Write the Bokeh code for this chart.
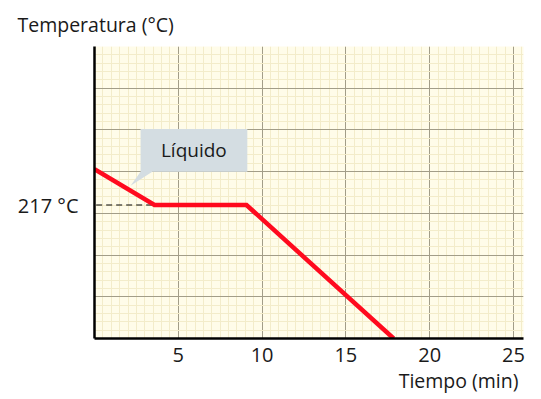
from bokeh.plotting import figure
from bokeh.models import FixedTicker, Label, Range1d, Title
from bokeh.embed import file_html
from bokeh.resources import INLINE

# data (time in min, temperature in grid units; 217 °C level at 3.2)
time_min = [0, 3.58, 9.07, 17.85]
temp_level = [4.06, 3.2, 3.2, 0.0]
x_ticks = [5, 10, 15, 20, 25]
y_major_grid = [1, 2, 3, 4, 5, 6, 7]
level_217 = 3.2
level_label = "217 °C"

FONT = "Open Sans"

p = figure(width=533, height=393, output_backend="svg", toolbar_location=None,
           x_range=Range1d(0, 25.6), y_range=Range1d(0, 7),
           min_border_left=94, min_border_right=10, min_border_top=10, min_border_bottom=4)
p.outline_line_color = None
p.background_fill_color = "#fffce9"
p.border_fill_color = "white"

p.title = Title(text="Temperatura (°C)", align="left", offset=-77, text_font=FONT,
                text_font_size="19.5px", text_font_style="normal", text_color="#1a1a1a",
                standoff=17)
p.add_layout(Title(text="Tiempo (min)", align="right", offset=5, text_font=FONT,
                   text_font_size="19.5px", text_font_style="normal", text_color="#1a1a1a",
                   standoff=0),
             "below")

# grids
p.xgrid.ticker = FixedTicker(ticks=x_ticks, minor_ticks=[i * 0.5 for i in range(0, 52)])
p.ygrid.ticker = FixedTicker(ticks=y_major_grid, minor_ticks=[i * 0.2 for i in range(0, 36)])
for g in (p.xgrid, p.ygrid):
    g.grid_line_color = "#a29d88"
    g.grid_line_width = 1
    g.minor_grid_line_color = "#f3ecca"
    g.minor_grid_line_alpha = 1.0

# axes
p.xaxis.ticker = FixedTicker(ticks=x_ticks)
p.yaxis.ticker = FixedTicker(ticks=[level_217])
p.yaxis.major_label_overrides = {level_217: level_label}
for ax in (p.xaxis, p.yaxis):
    ax.axis_line_color = "black"
    ax.axis_line_width = 2.5
    ax.major_tick_line_color = None
    ax.minor_tick_line_color = None
    ax.major_label_text_font = FONT
    ax.major_label_text_font_size = "20px"
    ax.major_label_text_color = "#1a1a1a"
p.xaxis.major_label_standoff = 3
p.yaxis.major_label_standoff = 10

# callout
p.patch([2.75, 9.12, 9.12, 3.45, 2.15, 2.75], [5.02, 5.02, 4.0, 4.0, 3.66, 4.0],
        fill_color="#d4dde2", line_color=None)
p.add_layout(Label(x=5.93, y=4.52, text="Líquido", text_align="center", text_baseline="middle",
                   text_font=FONT, text_font_size="19px", text_color="#1a1a1a"))

# dashed reference
p.line([0.1, time_min[1]], [level_217, level_217], line_color="black", line_width=1, line_dash="6 4")

# curve
p.line(time_min, temp_level, line_color="#ff0a1e", line_width=4.5, line_join="miter")

open("out.html", "w").write(file_html(p, INLINE))
